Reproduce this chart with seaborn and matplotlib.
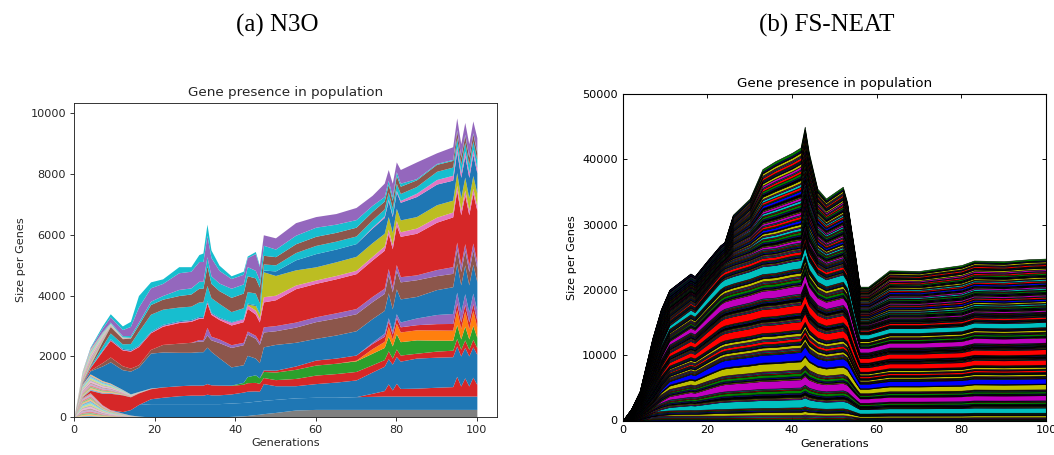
import matplotlib
matplotlib.use("Agg")
import matplotlib.pyplot as plt
import seaborn as sns

# ---------------------------------------------------------------
# (a) N3O : gene presence per generation (one list per gene layer,
#           values at the listed generations, stacked bottom -> top)
# ---------------------------------------------------------------
gen_a = [0, 2, 4, 7, 9, 12, 14, 16, 19, 22, 26, 29, 31, 32, 33, 34, 36, 39, 42, 43, 45, 46, 47, 50,
         55, 60, 65, 70, 74, 77, 78, 79, 80, 81, 85, 90, 94, 95, 96, 97, 98, 99, 100]

# short-lived genes of the first generations (same profile for every gene of a group)
early_low = [0, 40, 50, 25, 15, 8, 4, 2, 0, 0, 0, 0, 0, 0, 0, 0, 0, 0, 0, 0, 0, 0,
             0, 0, 0, 0, 0, 0, 0, 0, 0, 0, 0, 0, 0, 0, 0, 0, 0, 0, 0, 0, 0]
early_mid = [0, 35, 45, 35, 28, 15, 8, 4, 2, 0, 0, 0, 0, 0, 0, 0, 0, 0, 0, 0, 0, 0,
             0, 0, 0, 0, 0, 0, 0, 0, 0, 0, 0, 0, 0, 0, 0, 0, 0, 0, 0, 0, 0]
early_high = [0, 30, 45, 25, 10, 5, 2, 0, 0, 0, 0, 0, 0, 0, 0, 0, 0, 0, 0, 0, 0, 0,
              0, 0, 0, 0, 0, 0, 0, 0, 0, 0, 0, 0, 0, 0, 0, 0, 0, 0, 0, 0, 0]
early_counts = [16, 12, 12]

gray_1 = [0, 0, 0, 0, 0, 0, 0, 0, 0, 0, 0, 0, 0, 0, 0, 0, 0, 20, 40, 50, 80, 90, 110, 150, 230,
          250, 250, 250, 250, 250, 250, 250, 250, 250, 250, 250, 250, 250, 250, 250, 250, 250, 250]
blue_1 = [0, 0, 0, 0, 0, 50, 180, 380, 440, 440, 440, 440, 440, 440, 440, 440, 440, 440, 440, 440,
          440, 440, 440, 430, 400, 400, 400, 420, 430, 440, 440, 440, 440, 440, 440, 440, 440, 440,
          440, 440, 440, 440, 440]
red_1 = [0, 0, 0, 0, 0, 0, 0, 0, 0, 0, 0, 0, 0, 0, 0, 0, 0, 0, 0, 0, 0, 0, 0, 0, 0,
         0, 0, 0, 100, 180, 400, 200, 420, 250, 260, 290, 310, 650, 330, 600, 330, 620, 380]
blue_2 = [0, 0, 0, 0, 0, 0, 0, 0, 160, 210, 260, 280, 280, 280, 310, 290, 290, 300, 340, 360,
          340, 320, 550, 450, 400, 450, 500, 550, 700, 800, 830, 850, 880, 900, 990, 990, 985, 1000,
          990, 1000, 990, 1000, 990]
red_2 = [0, 15, 80, 380, 540, 550, 420, 380, 330, 340, 330, 330, 330, 330, 350, 330, 320, 280, 260, 280,
         280, 260, 200, 200, 240, 280, 280, 280, 240, 220, 260, 200, 250, 200, 160, 200, 215, 250, 220,
         250, 220, 250, 220]
green_1 = [0, 0, 0, 0, 0, 0, 0, 0, 0, 0, 0, 0, 0, 0, 0, 0, 0, 10, 60, 200, 250, 180, 200, 250, 300,
           330, 340, 350, 380, 400, 480, 400, 500, 440, 440, 360, 330, 450, 340, 450, 340, 450, 340]
orange_1 = [0, 0, 0, 0, 0, 0, 0, 0, 0, 0, 0, 0, 0, 0, 0, 0, 0, 0, 0, 0, 0, 0, 0, 0, 0,
            0, 0, 20, 150, 200, 320, 220, 350, 320, 330, 335, 330, 500, 340, 500, 340, 500, 340]
red_3 = [0, 0, 0, 0, 0, 0, 0, 0, 0, 0, 0, 0, 0, 0, 0, 0, 0, 0, 0, 0, 0, 0, 50, 60, 110,
         165, 170, 170, 170, 170, 180, 170, 180, 170, 170, 210, 220, 220, 220, 220, 220, 220, 220]
purple_1 = [0, 0, 0, 0, 0, 0, 0, 0, 0, 0, 0, 0, 0, 0, 0, 0, 0, 0, 0, 0, 0, 0, 0, 0, 0,
            0, 0, 0, 40, 100, 110, 110, 130, 160, 220, 300, 330, 350, 330, 350, 330, 350, 330]
blue_3 = [0, 20, 100, 480, 700, 650, 750, 800, 1150, 1150, 1100, 1080, 1100, 1100, 1200, 1100, 900, 600,
          580, 700, 550, 500, 760, 850, 780, 715, 760, 800, 780, 750, 820, 720, 820, 760, 710, 820, 880,
          950, 890, 950, 890, 950, 940]
brown_1 = [0, 5, 25, 110, 160, 130, 100, 80, 120, 250, 300, 330, 350, 350, 400, 380, 500, 640, 660, 700,
           650, 600, 490, 450, 500, 550, 560, 560, 560, 560, 600, 560, 600, 560, 550, 460, 440, 480, 440,
           480, 440, 480, 440]
purple_2 = [0, 0, 0, 0, 0, 0, 0, 0, 0, 0, 0, 0, 50, 50, 250, 120, 120, 90, 80, 100, 100, 90, 170, 170, 165,
            160, 170, 170, 170, 170, 200, 170, 200, 170, 160, 200, 220, 220, 220, 220, 220, 220, 220]
red_4 = [0, 15, 80, 380, 550, 520, 560, 600, 550, 600, 680, 690, 700, 700, 800, 720, 640, 650, 680, 750,
         700, 650, 820, 850, 1100, 1100, 1120, 1150, 1200, 1250, 1150, 1250, 1300, 1330, 1370, 1560, 1640,
         1700, 1650, 1600, 1650, 1630, 1700]
pink_1 = [0, 0, 5, 15, 20, 20, 20, 20, 20, 30, 30, 30, 30, 30, 40, 40, 50, 90, 90, 110, 130, 120, 170,
          150, 120, 110, 110, 110, 120, 140, 140, 140, 150, 150, 170, 165, 160, 170, 160, 170, 160, 170, 160]
olive_1 = [0, 0, 0, 0, 0, 0, 0, 0, 0, 0, 0, 0, 0, 0, 0, 0, 0, 0, 0, 30, 150, 150, 820, 650, 500,
           435, 450, 460, 450, 420, 420, 400, 400, 390, 380, 410, 390, 420, 400, 420, 400, 420, 400]
blue_4 = [0, 0, 5, 20, 30, 30, 30, 30, 30, 30, 30, 30, 30, 30, 40, 30, 30, 20, 20, 30, 30, 30, 60, 150,
          330, 435, 420, 420, 480, 520, 530, 520, 540, 580, 660, 680, 660, 700, 670, 700, 670, 700, 670]
pink_2 = [0, 0, 0, 0, 0, 0, 0, 0, 0, 0, 0, 0, 0, 0, 0, 0, 0, 0, 0, 0, 0, 0, 0, 0, 0,
          0, 0, 0, 30, 50, 50, 50, 50, 60, 110, 150, 160, 170, 160, 170, 160, 170, 160]
cyan_1 = [0, 5, 30, 130, 190, 150, 200, 450, 560, 500, 450, 440, 480, 480, 500, 480, 450, 330, 350, 380,
          380, 330, 200, 200, 240, 270, 260, 250, 240, 230, 230, 230, 240, 230, 220, 270, 270, 280, 270,
          280, 270, 280, 270]
brown_2 = [0, 8, 35, 150, 210, 170, 180, 220, 320, 330, 380, 400, 450, 450, 650, 470, 420, 470, 480, 520,
           500, 520, 285, 270, 290, 300, 290, 290, 280, 260, 260, 250, 260, 240, 220, 230, 220, 230, 230,
           230, 230, 230, 230]
cyan_2 = [0, 0, 5, 20, 30, 40, 60, 80, 110, 120, 200, 200, 230, 230, 300, 250, 250, 300, 300, 300,
          250, 230, 330, 250, 280, 300, 270, 250, 200, 150, 130, 120, 120, 100, 40, 30, 30, 30, 30,
          30, 30, 30, 30]
purple_3 = [0, 7, 30, 120, 170, 200, 300, 500, 440, 400, 550, 550, 650, 650, 700, 600, 420, 320, 320, 300,
            550, 450, 345, 370, 415, 350, 350, 400, 330, 440, 350, 450, 320, 450, 550, 350, 420, 390, 420,
            390, 420, 390, 470]
cyan_3 = [0, 5, 25, 75, 104, 122, 166, 380, 196, 150, 200, 150, 230, 280, 370, 250, 170, 90, 100, 50,
          70, 40, 0, 0, 0, 0, 0, 0, 0, 0, 0, 0, 0, 0, 0, 0, 0, 0, 0, 0, 0, 0, 0]

# ---------------------------------------------------------------
# (b) FS-NEAT : gene kinds, every gene of a kind sharing one profile
# ---------------------------------------------------------------
gen_b = [0, 2, 4, 7, 9, 11, 14, 16, 17, 20, 23, 24, 26, 30, 33, 36, 40, 42, 43, 44, 46, 48, 52, 53,
         55, 56, 58, 63, 70, 80, 83, 90, 96, 100]
minor_gene = [0, 20, 50, 140, 150, 150, 150, 150, 150, 150, 150, 150, 155, 160, 165, 165, 170, 170, 185,
              170, 160, 155, 160, 150, 110, 90, 90, 95, 95, 95, 100, 100, 100, 100]
founder_major = [0, 0, 0, 0, 280, 520, 640, 720, 688, 880, 1064, 1104, 1120, 1160, 1200, 1216, 1240, 1256,
                 1360, 1240, 1120, 1080, 1120, 1080, 800, 680, 680, 736, 736, 760, 784, 776, 784, 792]
founder_minor = [0, 0, 0, 0, 105, 195, 240, 270, 258, 330, 399, 414, 420, 435, 450, 456, 465, 471, 510,
                 465, 420, 405, 420, 405, 300, 255, 255, 276, 276, 285, 294, 291, 294, 297]
late_gene = [0, 0, 0, 0, 0, 0, 0, 0, 0, 0, 0, 0, 142, 204, 346, 386, 408, 432, 454, 408, 284, 262, 296,
             260, 204, 156, 156, 210, 206, 230, 228, 228, 236, 236]

# ---------------------------------------------------------------
sns.set_style("ticks")
plt.rcParams["font.family"] = ["DejaVu Sans"]
tab = sns.color_palette("tab10")
C = dict(zip(["blue", "orange", "green", "red", "purple", "brown", "pink", "gray", "olive", "cyan"], tab))

fig = plt.figure(figsize=(10.54, 4.55), dpi=100)
ax_a = fig.add_axes([74 / 1054, 38 / 455, 423 / 1054, 314 / 455])
ax_b = fig.add_axes([622.7 / 1054, 34.5 / 455, 423.3 / 1054, 326.5 / 455])

# ---- panel (a) ----
series_a, colors_a = [], []


def add_group(profile, count):
    for k in range(count):
        series_a.append(profile)
        r, g, b = tab[k % 10]
        colors_a.append((r, g, b, 0.55))


def add_layers(pairs):
    for values, cname in pairs:
        series_a.append(values)
        colors_a.append(C[cname])


add_group(early_low, early_counts[0])
add_layers([(gray_1, "gray"), (blue_1, "blue"), (red_1, "red"), (blue_2, "blue"), (red_2, "red")])
add_group(early_mid, early_counts[1])
add_layers([(green_1, "green"), (orange_1, "orange"), (red_3, "red"), (purple_1, "purple"),
            (blue_3, "blue"), (brown_1, "brown"), (purple_2, "purple"), (red_4, "red"),
            (pink_1, "pink"), (olive_1, "olive"), (blue_4, "blue"), (pink_2, "pink"),
            (cyan_1, "cyan"), (brown_2, "brown")])
add_group(early_high, early_counts[2])
add_layers([(cyan_2, "cyan"), (purple_3, "purple"), (cyan_3, "cyan")])

ax_a.stackplot(gen_a, *series_a, colors=colors_a, linewidth=0)
ax_a.set_xlim(0, 105)
ax_a.set_ylim(0, 10340)
ax_a.set_xticks([0, 20, 40, 60, 80, 100])
ax_a.set_yticks([0, 2000, 4000, 6000, 8000, 10000])
ax_a.tick_params(labelsize=8.1, length=2.8, width=0.65, pad=2.8)
for sp in ax_a.spines.values():
    sp.set_linewidth(0.65)
ax_a.set_title("Gene presence in population", fontsize=9.7, pad=4.9)
ax_a.set_xlabel("Generations", fontsize=8.1, labelpad=2.6)
ax_a.set_ylabel("Size per Genes", fontsize=8.1, labelpad=3.5)

# ---- panel (b) ----
# m: minor gene, F / f: large / small founder gene, l: gene arising at generation 24
profiles_b = {"m": minor_gene, "F": founder_major, "f": founder_minor, "l": late_gene}
stack_order = ("mmmmmfmmmm" + "FmmfmfmmFm" + "mmfmmmFmFm" + "mmmfmmmfmm"
               + "fmmmFmmmfm" + "mFmmmfmmmm" + "Fmmmfmmmfm" + "mmmFmmmmmf" + "mmmmmm"
               + "mm" + "lm" * 10 + "llm" * 6 + "mml" * 3)
cycle_b = ["b", "g", "r", "c", "m", "y", "k"]
classic = {"b": (0, 0, 1), "g": (0, 0.5, 0), "r": (1, 0, 0), "c": (0, 0.75, 0.75),
           "m": (0.75, 0, 0.75), "y": (0.75, 0.75, 0), "k": (0, 0, 0)}
series_b = [profiles_b[key] for key in stack_order]
colors_b = [classic[cycle_b[i % 7]] for i in range(len(series_b))]

ax_b.stackplot(gen_b, *series_b, colors=colors_b, edgecolor="black", linewidth=0.4)
ax_b.set_xlim(0, 100)
ax_b.set_ylim(0, 50000)
ax_b.set_xticks([0, 20, 40, 60, 80, 100])
ax_b.set_yticks([0, 10000, 20000, 30000, 40000, 50000])
ax_b.tick_params(direction="in", top=True, right=True, labelsize=8.1, length=3.2,
                 width=0.65, pad=3.5, colors="black")
for sp in ax_b.spines.values():
    sp.set_linewidth(0.8)
    sp.set_color("black")
ax_b.set_title("Gene presence in population", fontsize=9.7, pad=4.9, color="black")
ax_b.set_xlabel("Generations", fontsize=8.1, labelpad=2.6, color="black")
ax_b.set_ylabel("Size per Genes", fontsize=8.1, labelpad=3.5, color="black")

# ---- panel captions ----
fig.text(277 / 1054, 1 - 25 / 455, "(a) N3O", ha="center", va="center",
         family="Liberation Serif", fontsize=18, color="black")
fig.text(827 / 1054, 1 - 25 / 455, "(b) FS-NEAT", ha="center", va="center",
         family="Liberation Serif", fontsize=18, color="black")

fig.savefig("out.png", dpi=100)
